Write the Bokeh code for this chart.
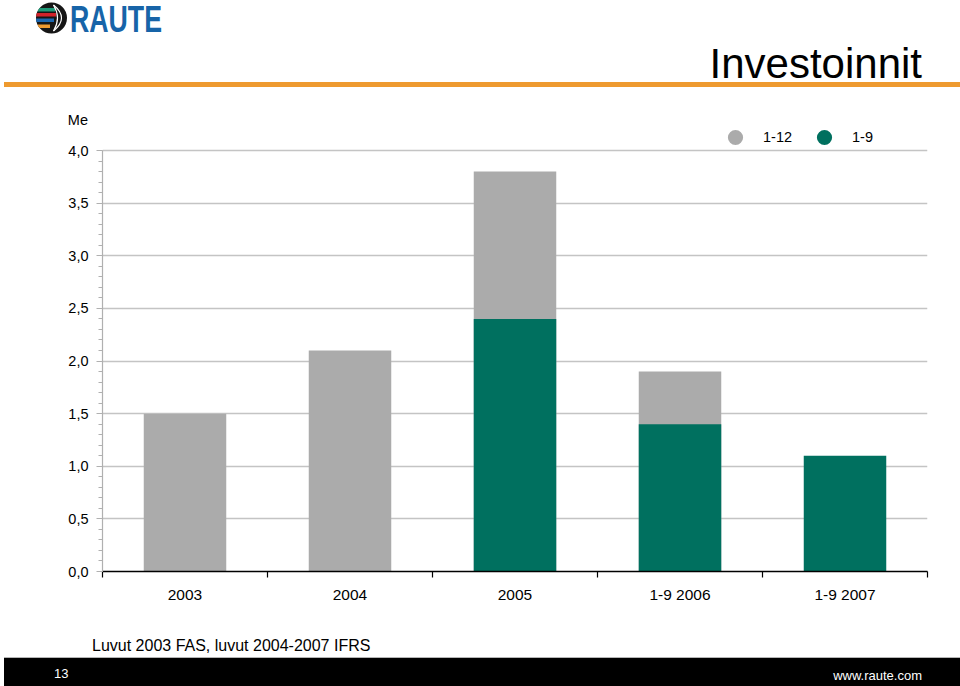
import numpy as np
from bokeh.plotting import figure
from bokeh.layouts import column
from bokeh.models import (Range1d, FixedTicker, CustomJSTickFormatter, Legend, LegendItem, Div)
from bokeh.embed import file_html
from bokeh.resources import INLINE

# ---------------- data ----------------
categories = ["2003", "2004", "2005", "1-9 2006", "1-9 2007"]
full_year = [1.5, 2.1, 3.8, 1.9, None]      # 1-12 (gray)
nine_months = [None, None, 2.4, 1.4, 1.1]   # 1-9 (green)
series_labels = ["1-12", "1-9"]
y_ticks = [0.0, 0.5, 1.0, 1.5, 2.0, 2.5, 3.0, 3.5, 4.0]
y_minor = [round(i * 0.1, 1) for i in range(41)]
title_text = "Investoinnit"
unit_text = "Me"
note_text = "Luvut 2003 FAS, luvut 2004-2007 IFRS"
page_no = "13"
site_text = "www.raute.com"
logo_text = "RAUTE"

GRAY = "#ababab"
GREEN = "#00705f"
ORANGE = "#ee9a2f"
FONT = "Liberation Sans"
W = 960
HEAD_H, MAIN_H, FOOT_H = 128, 497, 61
BORDER_BOTTOM = 54
AXIS_TOP_PX = 150          # page y of the 4,0 gridline
PAGE_AXIS_Y0 = HEAD_H + MAIN_H - BORDER_BOTTOM   # page y of the 0,0 line
px_per_unit = (PAGE_AXIS_Y0 - AXIS_TOP_PX) / y_ticks[-1]
y_top = (MAIN_H - BORDER_BOTTOM) / px_per_unit   # leaves room for the legend above 4,0

# ---------------- header (inline svg) ----------------
cx, cy, R = 51.5, 18.0, 15.5
stripes = [(8.0, 3.5, 55, "#1f9a78"), (13.0, 3.5, 56, "#d2232a"), (18.5, 3.5, 54, "#1b67b0"),
           (24.5, 3.5, 50, ORANGE)]
stripe_svg = "".join(
    f'<rect x="30" y="{y}" width="{xe - 30}" height="{h}" fill="{c}" clip-path="url(#globe)"/>'
    for (y, h, xe, c) in stripes)
arcs = "".join(
    f'<path d="M {cx + 2} {cy - 13} Q {cx + 2 + k} {cy} {cx + 2} {cy + 13}" stroke="white" '
    f'stroke-width="1.2" fill="none" clip-path="url(#globe)"/>' for k in (8, 16))
header_html = f"""
<svg xmlns="http://www.w3.org/2000/svg" width="{W}" height="{HEAD_H}" style="display:block">
  <defs><clipPath id="globe"><circle cx="{cx}" cy="{cy}" r="{R}"/></clipPath></defs>
  <circle cx="{cx}" cy="{cy}" r="{R}" fill="#161616"/>
  {stripe_svg}
  {arcs}
  <text x="70" y="31.5" font-family="{FONT}" font-weight="bold" font-size="36"
        fill="#1764a8" textLength="92" lengthAdjust="spacingAndGlyphs">{logo_text}</text>
  <rect x="4" y="82" width="{W - 4}" height="5" fill="{ORANGE}"/>
  <text x="922" y="78" text-anchor="end" font-family="{FONT}" font-size="42"
        fill="black">{title_text}</text>
  <text x="88" y="124.5" text-anchor="end" font-family="{FONT}" font-size="14.5"
        fill="black">{unit_text}</text>
</svg>"""
head = Div(text=header_html, width=W, height=HEAD_H,
           styles={"margin": "0", "padding": "0", "overflow": "hidden"})

# ---------------- main chart ----------------
p = figure(width=W, height=MAIN_H, x_range=Range1d(0.5, 5.5), y_range=Range1d(0, y_top),
           output_backend="svg", toolbar_location=None,
           min_border_left=102, min_border_right=33, min_border_top=0,
           min_border_bottom=BORDER_BOTTOM)
p.outline_line_color = None
p.background_fill_color = "white"
p.border_fill_color = "white"
p.xgrid.grid_line_color = None
p.ygrid.grid_line_color = "#c4c4c4"
p.ygrid.grid_line_width = 1.5
p.ygrid.ticker = FixedTicker(ticks=y_ticks)

gx = [i + 1 for i, v in enumerate(full_year) if v is not None]
gt = [v for v in full_year if v is not None]
nx = [i + 1 for i, v in enumerate(nine_months) if v is not None]
nt = [v for v in nine_months if v is not None]
p.vbar(x=gx, top=gt, bottom=0, width=0.5, fill_color=GRAY, line_color=None)
p.vbar(x=nx, top=nt, bottom=0, width=0.5, fill_color=GREEN, line_color=None)

xa = p.xaxis[0]
xa.ticker = FixedTicker(ticks=[i + 1 for i in range(len(categories))],
                        minor_ticks=[i + 0.5 for i in range(len(categories) + 1)])
xa.major_label_overrides = {i + 1: c for i, c in enumerate(categories)}
xa.major_tick_line_color = None
xa.major_tick_out = 0
xa.major_tick_in = 0
xa.minor_tick_line_color = "black"
xa.minor_tick_line_width = 1.2
xa.minor_tick_in = 0
xa.minor_tick_out = 6
xa.axis_line_color = "black"
xa.axis_line_width = 1.5
xa.major_label_standoff = 8
xa.major_label_text_font = FONT
xa.major_label_text_font_size = "15.5px"
xa.major_label_text_color = "black"

ya = p.yaxis[0]
ya.bounds = (y_ticks[0], y_ticks[-1])
ya.ticker = FixedTicker(ticks=y_ticks, minor_ticks=y_minor)
ya.formatter = CustomJSTickFormatter(code="return tick.toFixed(1).replace('.', ',');")
ya.axis_line_color = "#b0b0b0"
ya.axis_line_width = 1.2
ya.major_tick_line_color = "#b0b0b0"
ya.major_tick_out = 6
ya.major_tick_in = 0
ya.minor_tick_line_color = "#b0b0b0"
ya.minor_tick_out = 4
ya.minor_tick_in = 0
ya.major_label_standoff = 8
ya.major_label_text_font = FONT
ya.major_label_text_font_size = "14.5px"
ya.major_label_text_color = "black"

# legend with round markers (zero-size proxy markers), in the strip above the 4,0 line
r1 = p.scatter(x=gx[:1], y=gt[:1], size=0, marker="circle", fill_color=GRAY, line_color=None)
r2 = p.scatter(x=nx[:1], y=nt[:1], size=0, marker="circle", fill_color=GREEN, line_color=None)
legend = Legend(items=[LegendItem(label=series_labels[0], renderers=[r1]),
                       LegendItem(label=series_labels[1], renderers=[r2])],
                orientation="horizontal", location=(614, PAGE_AXIS_Y0 - 155.5),
                glyph_width=38, glyph_height=38, label_standoff=9, spacing=13,
                padding=0, margin=0, border_line_color=None, background_fill_alpha=0,
                label_text_font=FONT, label_text_font_size="14.5px", label_text_color="black")
p.add_layout(legend, "center")

# ---------------- footer (inline svg) ----------------
footer_html = f"""
<svg xmlns="http://www.w3.org/2000/svg" width="{W}" height="{FOOT_H}" style="display:block">
  <text x="92" y="26" font-family="{FONT}" font-size="16" fill="black">{note_text}</text>
  <rect x="4" y="33" width="{W - 4}" height="{FOOT_H - 33}" fill="black"/>
  <line x1="4" y1="32.5" x2="{W}" y2="32.5" stroke="#b5b5b5" stroke-width="1"/>
  <text x="54" y="52.5" font-family="{FONT}" font-size="13" fill="white">{page_no}</text>
  <text x="922" y="54.5" text-anchor="end" font-family="{FONT}" font-size="13"
        fill="white">{site_text}</text>
</svg>"""
foot = Div(text=footer_html, width=W, height=FOOT_H,
           styles={"margin": "0", "padding": "0", "overflow": "hidden"})

layout = column(head, p, foot, spacing=0)
open("out.html", "w").write(file_html(layout, INLINE))
